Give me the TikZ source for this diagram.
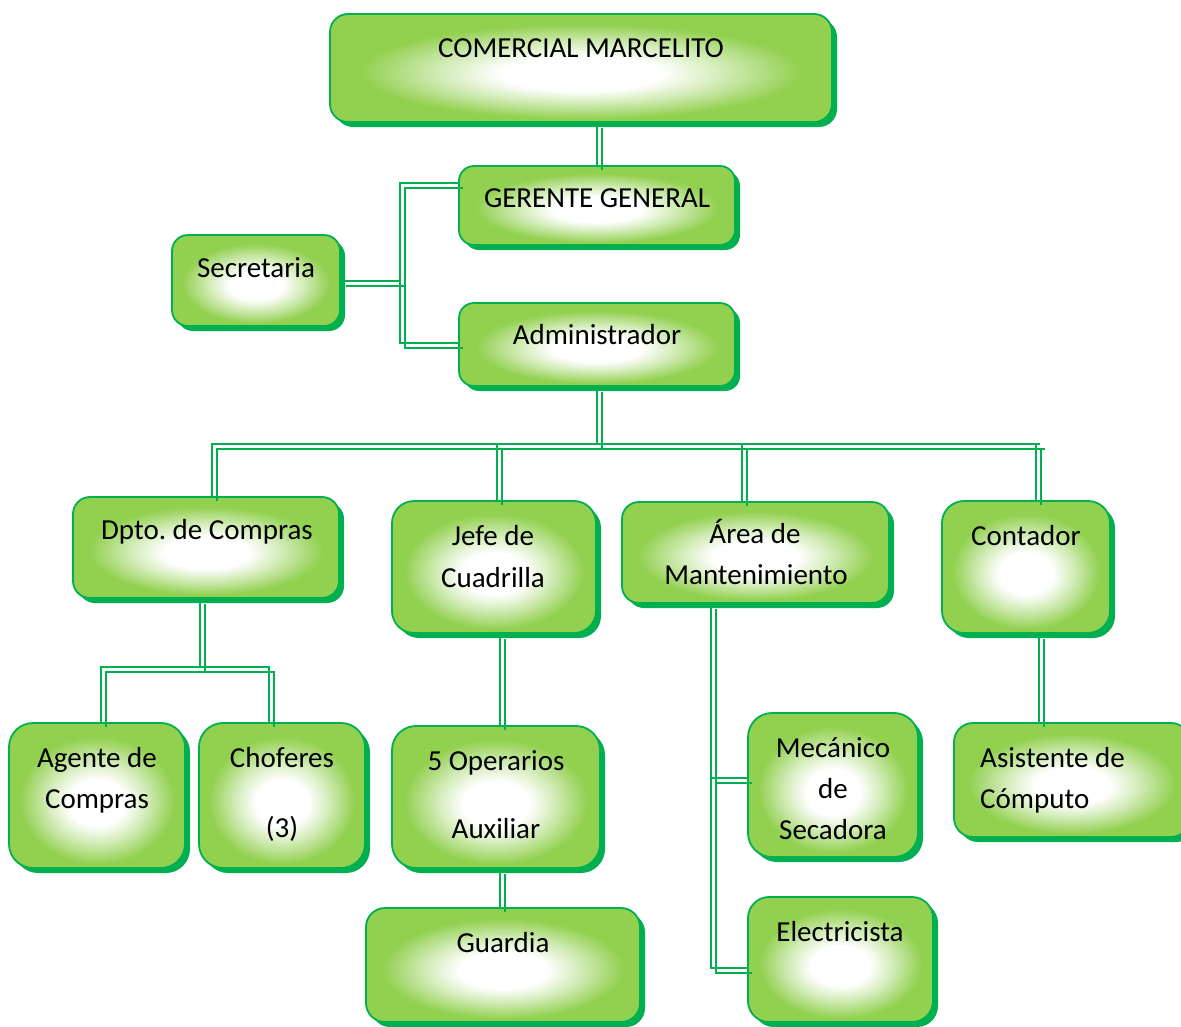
\documentclass[tikz,border=0pt]{standalone}
\usepackage{fontspec}
\setmainfont{Carlito}
\usetikzlibrary{shadows,calc}
\definecolor{lg}{RGB}{0,176,80}
\definecolor{fillg}{RGB}{146,208,80}
\pgfdeclareradialshading{boxshade}{\pgfpoint{0bp}{-3bp}}{color(0bp)=(white); color(8bp)=(white); color(14bp)=(fillg!40!white); color(22bp)=(fillg); color(50bp)=(fillg)}
\newcommand\dcon[1]{\draw[cline] #1;\begin{scope}[transform canvas={xshift=5pt,yshift=-5pt}]\draw[cline] #1;\end{scope}}
\frenchspacing
\begin{document}
\begin{tikzpicture}[x=1pt,y=-1pt,
  box/.style={rectangle, draw=lg, line width=1.8pt, shade, shading=boxshade,
    drop shadow={shadow xshift=5pt, shadow yshift=-5pt, fill=lg, opacity=1, draw=none},
    inner sep=0pt},
  cline/.style={draw=lg, line width=2pt},
  txt/.style={inner sep=0pt, anchor=base, font=\fontsize{29}{41}\selectfont}]
\clip (0,0) rectangle (1181,1026);
% boxes
\node[box, minimum width=502pt, minimum height=108pt, rounded corners=18pt] (cm) at (581,68) {};
\node[box, minimum width=276pt, minimum height=79pt, rounded corners=15pt] (gg) at (597,205.5) {};
\node[box, minimum width=168pt, minimum height=91pt, rounded corners=16pt] (sec) at (256,280.5) {};
\node[box, minimum width=276pt, minimum height=83pt, rounded corners=15pt] (adm) at (597,344.5) {};
\node[box, minimum width=266pt, minimum height=101pt, rounded corners=17pt] (dpto) at (206,547.5) {};
\node[box, minimum width=204pt, minimum height=132pt, rounded corners=22pt] (jefe) at (494,567) {};
\node[box, minimum width=267pt, minimum height=101pt, rounded corners=17pt] (area) at (755.5,552.5) {};
\node[box, minimum width=168pt, minimum height=132pt, rounded corners=22pt] (cont) at (1026,567) {};
\node[box, minimum width=176pt, minimum height=145pt, rounded corners=24pt] (agente) at (97,795.5) {};
\node[box, minimum width=166pt, minimum height=145pt, rounded corners=24pt] (chof) at (282,795.5) {};
\node[box, minimum width=208pt, minimum height=142pt, rounded corners=24pt] (oper) at (496,797) {};
\node[box, minimum width=274pt, minimum height=114pt, rounded corners=19pt] (guard) at (503,965) {};
\node[box, minimum width=170pt, minimum height=144pt, rounded corners=24pt] (mec) at (833,785) {};
\node[box, minimum width=185pt, minimum height=125pt, rounded corners=21pt] (elec) at (840.5,959.5) {};
\node[box, minimum width=236pt, minimum height=114pt, rounded corners=19pt] (asis) at (1072,780) {};
% junction coordinates
\coordinate (sj1) at (400,183);
\coordinate (sj2) at (400,343);
\coordinate (d1) at (212,444);
\coordinate (d2) at (497,444);
\coordinate (d3) at (742,444);
\coordinate (d4) at (1036,444);
\coordinate (d5) at (1040,444);
\coordinate (e0) at (200,667);
\coordinate (e1) at (101,667);
\coordinate (e2) at (269,667);
\coordinate (f) at (500,680);
\coordinate (g1) at (711,778);
\coordinate (g2) at (711,968);
\coordinate (h) at (1039,680);
% connectors
\dcon{(cm.south -| gg.north) -- (gg.north)}
\dcon{(sec.east) -- (sec.east -| sj1)}
\dcon{(sj1 -| gg.west) -- (sj1) -- (sj2) -- (sj2 -| adm.west)}
\dcon{(adm.south) -- (adm.south |- d1)}
\dcon{(d1 |- dpto.north) -- (d1) -- (d5)}
\dcon{(d2) -- (d2 |- jefe.north)}
\dcon{(d3) -- (d3 |- area.north)}
\dcon{(d4) -- (d4 |- cont.north)}
\dcon{(e0 |- dpto.south) -- (e0)}
\dcon{(e1 |- agente.north) -- (e1) -- (e2) -- (e2 |- chof.north)}
\dcon{(f |- jefe.south) -- (f |- oper.north)}
\dcon{(f |- oper.south) -- (f |- guard.north)}
\dcon{(g1 |- area.south) -- (g2) -- (g2 -| elec.west)}
\dcon{(g1) -- (g1 -| mec.west)}
\dcon{(h |- cont.south) -- (h |- asis.north)}
% texts
\node[txt] (cmt) at (581,57) {COMERCIAL MARCELITO};
\node[txt] (ggt) at (597,207) {GERENTE GENERAL};
\node[txt] (sect) at (256,277) {Secretaria};
\node[txt] (admt) at (597,344) {Administrador};
\node[txt] (dptot) at (207,539) {Dpto. de Compras};
\node[txt] (jefet1) at (493,545) {Jefe de};
\node[txt] (jefet2) at (493,587) {Cuadrilla};
\node[txt] (areat1) at (755,543) {Área de};
\node[txt] (areat2) at (756,584) {Mantenimiento};
\node[txt] (contt) at (1026,545) {Contador};
\node[txt] (agt1) at (97,767) {Agente de};
\node[txt] (agt2) at (97,808) {Compras};
\node[txt] (cht1) at (282,767) {Choferes};
\node[txt] (cht2) at (282,837) {(3)};
\node[txt] (opt1) at (496,770) {5 Operarios};
\node[txt] (opt2) at (496,838) {Auxiliar};
\node[txt] (gut) at (503,952) {Guardia};
\node[txt] (met1) at (833,757) {Mecánico};
\node[txt] (met2) at (833,798) {de};
\node[txt] (met3) at (833,839) {Secadora};
\node[txt] (elt) at (840,941) {Electricista};
\node[txt, anchor=base west] (ast1) at (980,767) {Asistente de};
\node[txt, anchor=base west] (ast2) at (980,808) {Cómputo};
\end{tikzpicture}
\end{document}
